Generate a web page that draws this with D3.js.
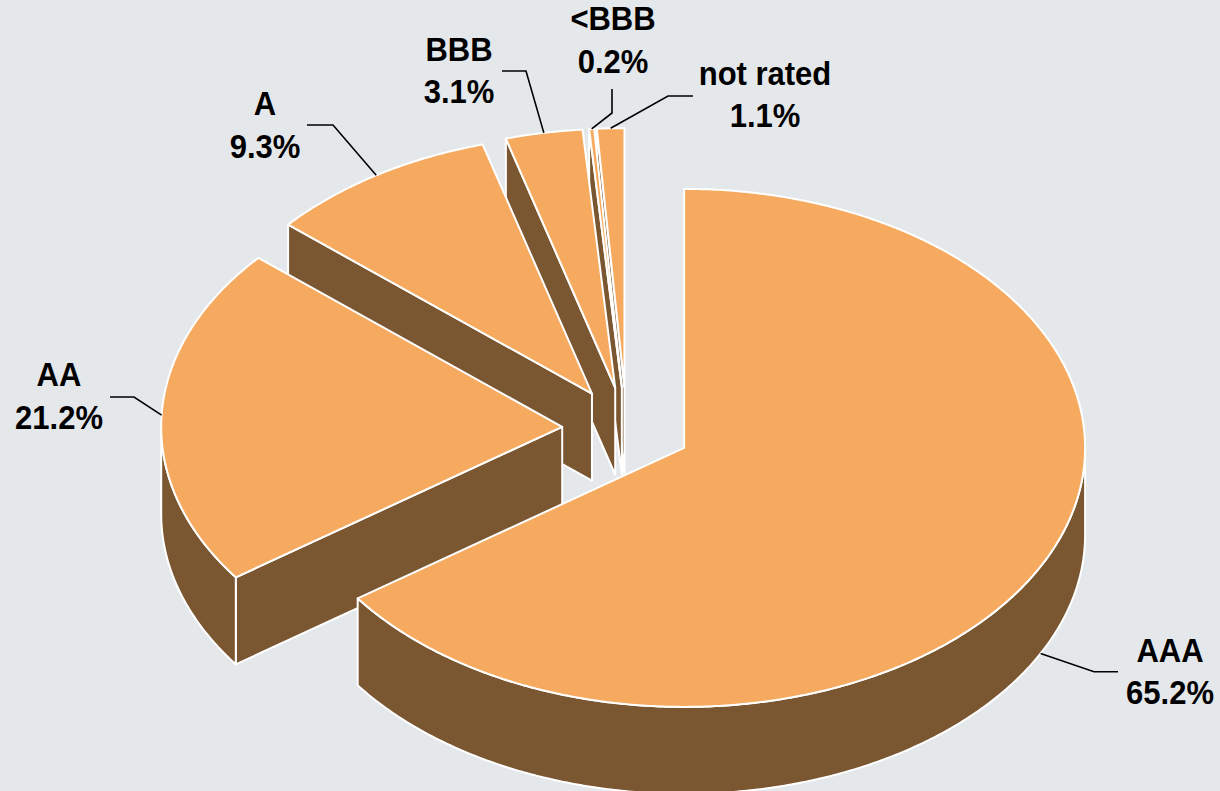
<!DOCTYPE html>
<html>
<head>
<meta charset="utf-8">
<script src="https://cdn.jsdelivr.net/npm/d3@7"></script>
<style>
  html, body { margin: 0; padding: 0; background: #E5E8EB; }
  svg { display: block; }
  text { font-family: "Liberation Sans", Arial, sans-serif; font-weight: bold; }
</style>
</head>
<body>
<svg id="chart" width="1220" height="791"></svg>
<script>
// Portfolio breakdown by credit rating (share of total, %)
const categories = ["AAA", "AA", "A", "BBB", "<BBB", "not rated"];
const shares = [65.2, 21.2, 9.3, 3.1, 0.2, 1.1];

// Label placement: text centre and the two leader-line points before the slice anchor
const labelLayout = [
  { x: 1170, y: 683,   lead: [[1118, 671.7], [1094, 671.7]], anchorOnBase: true },
  { x: 59,   y: 407.5, lead: [[110, 397], [134, 397]] },
  { x: 265,  y: 136.5, lead: [[307, 125], [333, 125]] },
  { x: 459,  y: 82,    lead: [[502, 71], [526, 71]] },
  { x: 613,  y: 51.7,  lead: [[612, 89], [612, 113]] },
  { x: 765,  y: 105.8, lead: [[693, 96], [668, 96]] }
];

const W = 1220, H = 791;
const cx = 626.7, cy = 428.8;   // pie centre (top face)
const rx = 401, ry = 259;       // tilted ellipse radii
const depth = 87;               // thickness of the pie
const explode = 0.161;          // slice explosion, fraction of radius

const topColor = "#F6AA60";
const sideColor = "#7A5631";
const edgeColor = "#FFFFFF";

const fontSize = 31, stretchY = 1.06, lineGap = 42.6;

const svg = d3.select("#chart");
svg.append("rect").attr("width", W).attr("height", H).attr("fill", "#E5E8EB");

const data = categories.map((c, i) => ({ cat: c, v: shares[i] }));
const arcs = d3.pie().sort(null).value(d => d.v).startAngle(0).endAngle(2 * Math.PI)(data);

// point on the ellipse around vertex v at angle a (clockwise from 12 o'clock)
const pt = (v, a, dz = 0) => [v[0] + rx * Math.sin(a), v[1] - ry * Math.cos(a) + dz];
const arcPts = (v, a0, a1, dz = 0) => {
  const n = Math.max(2, Math.ceil(Math.abs(a1 - a0) / (Math.PI / 360)) + 1);
  return d3.range(n).map(i => pt(v, a0 + (a1 - a0) * i / (n - 1), dz));
};
const closed = d3.line().curve(d3.curveLinearClosed);

const slices = arcs.map(d => {
  const mid = (d.startAngle + d.endAngle) / 2;
  const v = [cx + explode * rx * Math.sin(mid), cy - explode * ry * Math.cos(mid)];
  return { ...d, mid, v };
});

// draw farthest slices first
const order = slices.slice().sort((a, b) => a.v[1] - b.v[1]);

const g = svg.append("g")
  .attr("stroke", edgeColor)
  .attr("stroke-width", 2)
  .attr("stroke-linejoin", "round");

order.forEach(s => {
  const a0 = s.startAngle, a1 = s.endAngle, v = s.v;
  const sg = g.append("g");
  const vb = [v[0], v[1] + depth];

  // radial side walls facing the viewer
  if (Math.sin(a0) < -1e-6) {
    const p = pt(v, a0);
    sg.append("path").attr("fill", sideColor)
      .attr("d", closed([v, p, [p[0], p[1] + depth], vb]));
  }
  if (Math.sin(a1) > 1e-6) {
    const p = pt(v, a1);
    sg.append("path").attr("fill", sideColor)
      .attr("d", closed([v, p, [p[0], p[1] + depth], vb]));
  }
  // outer curved wall on the front half
  const fs = Math.max(a0, Math.PI / 2), fe = Math.min(a1, 3 * Math.PI / 2);
  if (fe > fs) {
    const pts = arcPts(v, fs, fe).concat(arcPts(v, fe, fs, depth));
    sg.append("path").attr("fill", sideColor).attr("d", closed(pts));
  }
  // top face
  sg.append("path").attr("fill", topColor)
    .attr("d", closed([v].concat(arcPts(v, a0, a1))));
});

// labels with leader lines
const fmt = d3.format(".1f");
const labels = svg.append("g");
slices.forEach((s, i) => {
  const L = labelLayout[i];
  const anchor = pt(s.v, s.mid, L.anchorOnBase ? depth : 0);
  labels.append("path")
    .attr("fill", "none").attr("stroke", "#000").attr("stroke-width", 1.6)
    .attr("d", d3.line()([L.lead[0], L.lead[1], anchor]));
  const t = labels.append("text")
    .attr("transform", `translate(${L.x},${L.y}) scale(1,${stretchY})`)
    .attr("text-anchor", "middle")
    .attr("font-size", fontSize)
    .attr("fill", "#000");
  t.append("tspan").attr("x", 0).attr("y", -lineGap / 2 / stretchY).text(s.data.cat);
  t.append("tspan").attr("x", 0).attr("y", lineGap / 2 / stretchY).text(fmt(s.data.v) + "%");
});
</script>
</body>
</html>
